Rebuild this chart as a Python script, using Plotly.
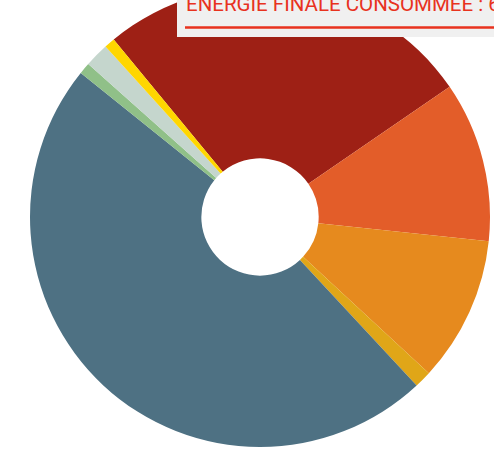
import plotly.graph_objects as go

# Data (share of final energy consumption, %), clockwise from the top-left
labels = ["Électricité", "Gaz naturel", "Chaleur", "Biocarburants",
          "Produits pétroliers", "Bois-énergie", "Charbon", "Autres"]
values = [26.4, 11.25, 10.2, 1.2, 47.7, 0.8, 1.7, 0.75]
colors = ["#9E2015", "#E35D29", "#E68A1E", "#E0A618",
          "#4E7183", "#90C088", "#C5D6CD", "#FFD600"]
title_text = "ÉNERGIE FINALE CONSOMMÉE : 64 %"

W, H = 494, 470
SHIFT = 15  # page is shifted up by this many px

fig = go.Figure(go.Pie(
    labels=labels, values=values, sort=False, direction="clockwise",
    rotation=-39.5, hole=0.255, textinfo="none", showlegend=False,
    marker=dict(colors=colors, line=dict(width=0)),
    domain=dict(x=[30 / W, 490 / W], y=[(H - 463) / H, (H - 1) / H]),
))

def py(page_y):
    return 1 - (page_y + SHIFT) / H

fig.add_shape(type="rect", xref="paper", yref="paper",
              x0=177 / W, x1=1.02, y0=py(37), y1=1.05,
              fillcolor="#F0F0F0", line=dict(width=0), layer="above")
fig.add_shape(type="line", xref="paper", yref="paper",
              x0=185 / W, x1=1.02, y0=py(27.5), y1=py(27.5),
              line=dict(color="#E8321E", width=2.5), layer="above")
fig.add_annotation(text=title_text, xref="paper", yref="paper",
                   x=184 / W, y=py(18), xanchor="left", yanchor="bottom",
                   showarrow=False,
                   font=dict(family="Roboto, sans-serif",
                             size=20.5, color="#E8321E"))

fig.update_layout(width=W, height=H, margin=dict(l=0, r=0, t=0, b=0),
                  paper_bgcolor="white", plot_bgcolor="white")

fig.write_html("out.html", config={"displayModeBar": False},
               post_script="document.body.style.margin='0';"
                           "document.body.style.overflow='hidden';"
                           "var d=document.getElementById('{plot_id}');"
                           "d.style.marginTop='-" + str(SHIFT) + "px';")
